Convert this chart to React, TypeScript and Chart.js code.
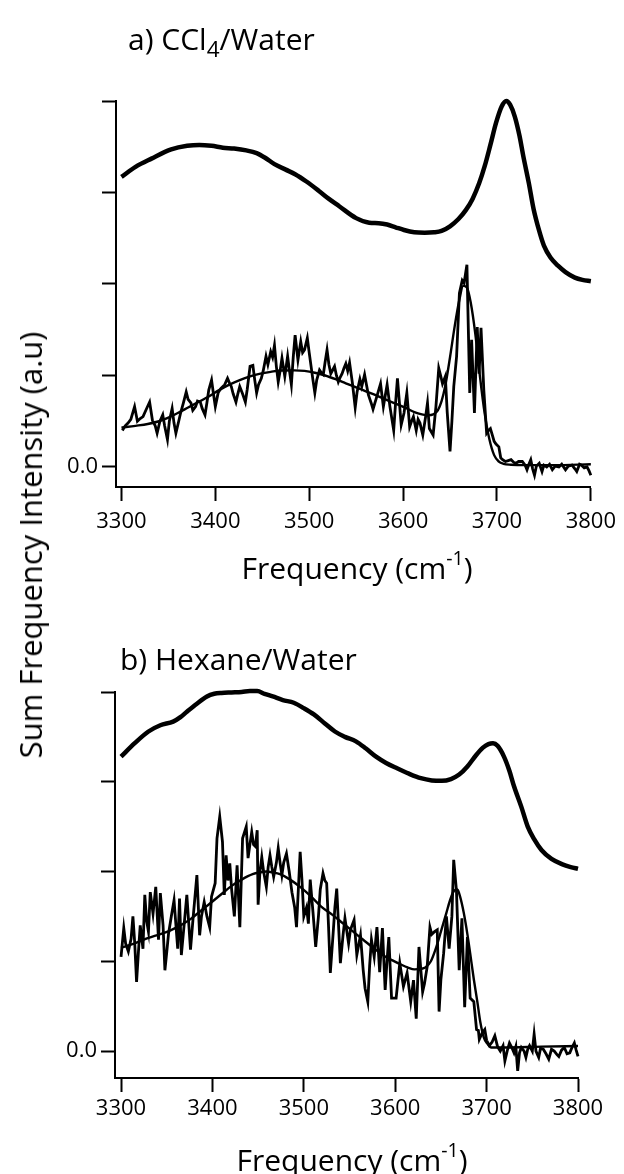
import React, { useEffect, useRef } from "react";
import { Chart, registerables } from "chart.js";

Chart.register(...registerables);

// ---------- Panel a) CCl4/Water ----------
const aTopX = [3300, 3315, 3332, 3353, 3370, 3383, 3396, 3408, 3420, 3433, 3444, 3453, 3463, 3475, 3485, 3497, 3510, 3521, 3532, 3550, 3564, 3574, 3583, 3592, 3601, 3612, 3623, 3633, 3641, 3650, 3659, 3667, 3674, 3681, 3687, 3693, 3699, 3705, 3710, 3714, 3719, 3724, 3728, 3734, 3739, 3745, 3750, 3757, 3765, 3773, 3783, 3791, 3800];
const aTopY = [3.17, 3.28, 3.37, 3.47, 3.51, 3.52, 3.51, 3.49, 3.48, 3.46, 3.43, 3.38, 3.31, 3.25, 3.2, 3.12, 3.02, 2.93, 2.85, 2.72, 2.67, 2.665, 2.65, 2.62, 2.59, 2.565, 2.56, 2.565, 2.58, 2.63, 2.71, 2.81, 2.93, 3.1, 3.29, 3.52, 3.76, 3.94, 4.0, 3.96, 3.83, 3.62, 3.4, 3.1, 2.82, 2.58, 2.42, 2.29, 2.2, 2.13, 2.07, 2.045, 2.03];

const aFitX = [3300, 3315, 3328, 3340, 3350, 3360, 3371, 3382, 3393, 3404, 3415, 3426, 3437, 3448, 3459, 3470, 3484, 3495, 3506, 3517, 3528, 3539, 3550, 3561, 3572, 3583, 3594, 3604, 3612, 3620, 3627, 3632, 3637, 3641, 3645, 3650, 3655, 3660, 3664, 3668, 3672, 3677, 3682, 3687, 3692, 3697, 3702, 3707, 3715, 3730, 3760, 3800];
const aFitY = [0.43, 0.45, 0.47, 0.5, 0.54, 0.59, 0.65, 0.71, 0.77, 0.84, 0.9, 0.95, 0.99, 1.02, 1.04, 1.055, 1.056, 1.05, 1.03, 1.0, 0.96, 0.915, 0.87, 0.825, 0.78, 0.73, 0.685, 0.64, 0.6, 0.575, 0.565, 0.575, 0.62, 0.72, 0.89, 1.2, 1.54, 1.83, 1.98, 1.96, 1.8, 1.45, 0.98, 0.58, 0.3, 0.13, 0.06, 0.035, 0.025, 0.02, 0.02, 0.03];

const aRawX = [3301, 3304, 3307, 3310, 3314, 3317, 3320, 3323, 3326, 3330, 3333, 3336, 3338, 3341, 3344, 3346, 3349, 3351, 3354, 3356, 3358, 3361, 3363, 3366, 3369, 3371, 3374, 3376, 3379, 3381, 3384, 3386, 3389, 3391, 3393, 3396, 3398, 3400, 3403, 3406, 3410, 3413, 3415, 3417, 3419, 3422, 3424, 3426, 3429, 3432, 3434, 3437, 3440, 3442, 3444, 3446, 3449, 3451, 3454, 3456, 3459, 3461, 3463, 3465, 3467, 3469, 3471, 3474, 3477, 3479, 3481, 3483, 3485, 3488, 3491, 3493, 3495, 3498, 3500, 3502, 3504, 3506, 3508, 3511, 3513, 3515, 3517, 3519, 3521, 3523, 3525, 3527, 3529, 3531, 3533, 3535, 3537, 3539, 3541, 3543, 3546, 3549, 3551, 3554, 3556, 3559, 3561, 3563, 3566, 3568, 3570, 3572, 3576, 3579, 3583, 3586, 3590, 3592, 3594, 3598, 3601, 3604, 3607, 3609, 3611, 3614, 3616, 3618, 3621, 3624, 3626, 3628, 3632, 3635, 3638, 3640, 3642, 3645, 3647, 3650, 3652, 3654, 3657, 3660, 3663, 3665, 3668, 3671, 3673, 3676, 3679, 3681, 3683, 3686, 3689, 3691, 3693, 3695, 3697, 3699, 3702, 3704, 3706, 3709, 3712, 3715, 3718, 3720, 3723, 3727, 3730, 3732, 3734, 3736, 3738, 3740, 3742, 3745, 3748, 3750, 3753, 3756, 3759, 3762, 3766, 3769, 3773, 3776, 3780, 3783, 3785, 3788, 3790, 3793, 3796, 3798, 3800];
const aRawY = [0.4, 0.45, 0.48, 0.52, 0.66, 0.5, 0.53, 0.55, 0.62, 0.71, 0.51, 0.45, 0.37, 0.5, 0.57, 0.45, 0.3, 0.5, 0.64, 0.48, 0.37, 0.5, 0.59, 0.7, 0.82, 0.74, 0.7, 0.62, 0.66, 0.72, 0.71, 0.64, 0.57, 0.7, 0.84, 0.95, 0.8, 0.66, 0.81, 0.86, 0.9, 0.97, 0.92, 0.88, 0.8, 0.71, 0.8, 0.88, 0.8, 0.71, 0.85, 1.1, 1.11, 0.95, 0.81, 0.9, 0.97, 1.05, 1.21, 1.12, 1.26, 1.2, 1.33, 1.1, 0.93, 1.05, 1.19, 0.99, 1.21, 1.05, 0.9, 1.2, 1.44, 1.17, 1.37, 1.25, 1.28, 1.41, 1.25, 1.1, 0.95, 0.81, 0.95, 1.06, 1.03, 1.01, 1.15, 1.28, 1.12, 1.02, 1.06, 1.1, 1.0, 0.93, 0.98, 1.02, 1.08, 1.13, 1.05, 1.14, 0.92, 0.65, 0.82, 0.96, 0.88, 1.01, 0.9, 0.79, 0.7, 0.63, 0.7, 0.77, 0.91, 0.66, 0.9, 0.66, 0.4, 0.7, 0.97, 0.46, 0.59, 0.81, 0.44, 0.5, 0.55, 0.4, 0.52, 0.48, 0.35, 0.55, 0.7, 0.42, 0.35, 0.66, 1.08, 1.0, 0.91, 0.99, 0.6, 0.17, 0.5, 0.88, 1.21, 1.9, 2.04, 2.01, 2.21, 0.81, 1.39, 0.59, 1.53, 1.02, 1.52, 0.84, 0.37, 0.4, 0.42, 0.35, 0.28, 0.25, 0.22, 0.1, 0.08, 0.06, 0.07, 0.08, 0.05, 0.04, 0.06, 0.06, 0.02, -0.03, 0.03, 0.08, -0.02, -0.09, 0.01, 0.04, -0.05, 0.02, 0.0, 0.03, -0.03, 0.01, 0.0, 0.03, -0.03, 0.01, 0.02, -0.02, -0.05, 0.03, 0.02, -0.01, 0.0, -0.04, -0.09];

// ---------- Panel b) Hexane/Water ----------
const bTopX = [3300, 3315, 3330, 3343, 3357, 3365, 3372, 3383, 3394, 3402, 3410, 3421, 3432, 3441, 3449, 3457, 3466, 3477, 3489, 3500, 3511, 3523, 3534, 3545, 3557, 3568, 3579, 3590, 3602, 3615, 3628, 3640, 3651, 3661, 3670, 3679, 3688, 3696, 3702, 3707, 3712, 3719, 3725, 3730, 3738, 3745, 3752, 3760, 3771, 3783, 3792, 3800];
const bTopY = [3.28, 3.43, 3.56, 3.63, 3.67, 3.72, 3.78, 3.87, 3.95, 3.98, 3.99, 3.995, 4.0, 4.01, 4.01, 3.98, 3.95, 3.91, 3.88, 3.82, 3.75, 3.65, 3.56, 3.5, 3.45, 3.37, 3.28, 3.21, 3.15, 3.09, 3.04, 3.015, 3.01, 3.03, 3.08, 3.17, 3.29, 3.38, 3.42, 3.43, 3.4, 3.28, 3.12, 2.95, 2.72, 2.5, 2.36, 2.24, 2.14, 2.08, 2.05, 2.03];

const bFitX = [3300, 3315, 3330, 3342, 3353, 3365, 3376, 3387, 3398, 3410, 3421, 3432, 3444, 3452, 3459, 3466, 3474, 3485, 3497, 3508, 3519, 3531, 3542, 3554, 3565, 3576, 3588, 3597, 3606, 3614, 3621, 3628, 3633, 3639, 3644, 3650, 3656, 3660, 3664, 3668, 3671, 3675, 3679, 3682, 3686, 3690, 3693, 3697, 3701, 3705, 3720, 3760, 3800];
const bFitY = [1.15, 1.2, 1.26, 1.3, 1.34, 1.4, 1.47, 1.56, 1.65, 1.75, 1.84, 1.91, 1.97, 1.99, 2.0, 1.99, 1.97, 1.91, 1.82, 1.72, 1.61, 1.52, 1.43, 1.33, 1.24, 1.15, 1.06, 1.01, 0.965, 0.93, 0.91, 0.915, 0.93, 1.0, 1.13, 1.33, 1.54, 1.68, 1.78, 1.8, 1.72, 1.54, 1.3, 1.09, 0.8, 0.54, 0.33, 0.15, 0.08, 0.04, 0.04, 0.05, 0.056];

const bRawX = [3300, 3303, 3305, 3308, 3311, 3313, 3315, 3317, 3319, 3321, 3324, 3326, 3328, 3330, 3332, 3335, 3338, 3341, 3343, 3346, 3348, 3350, 3352, 3355, 3358, 3362, 3364, 3366, 3369, 3372, 3376, 3379, 3383, 3386, 3388, 3391, 3394, 3397, 3399, 3403, 3405, 3408, 3411, 3413, 3415, 3417, 3419, 3421, 3424, 3427, 3430, 3433, 3437, 3439, 3441, 3443, 3445, 3447, 3449, 3450, 3452, 3454, 3456, 3459, 3461, 3463, 3465, 3467, 3470, 3472, 3474, 3476, 3478, 3481, 3484, 3487, 3490, 3492, 3494, 3496, 3498, 3500, 3503, 3505, 3507, 3510, 3513, 3516, 3518, 3521, 3523, 3525, 3527, 3529, 3532, 3534, 3536, 3538, 3540, 3543, 3545, 3549, 3551, 3555, 3558, 3562, 3565, 3567, 3570, 3572, 3574, 3577, 3580, 3583, 3586, 3589, 3591, 3593, 3596, 3598, 3601, 3605, 3609, 3613, 3617, 3620, 3623, 3626, 3630, 3632, 3635, 3638, 3640, 3643, 3646, 3648, 3650, 3653, 3656, 3659, 3662, 3664, 3667, 3670, 3673, 3676, 3679, 3682, 3686, 3689, 3691, 3692, 3695, 3698, 3700, 3703, 3706, 3709, 3712, 3715, 3718, 3720, 3723, 3725, 3728, 3730, 3732, 3734, 3736, 3738, 3741, 3743, 3745, 3747, 3750, 3752, 3754, 3757, 3759, 3762, 3765, 3768, 3771, 3774, 3777, 3779, 3782, 3785, 3788, 3791, 3793, 3796, 3798, 3800];
const bRawY = [1.05, 1.37, 1.2, 1.11, 1.25, 1.5, 1.2, 0.77, 1.1, 1.4, 1.14, 1.74, 1.45, 1.33, 1.77, 1.53, 1.83, 1.24, 1.76, 1.4, 0.9, 1.1, 1.31, 1.5, 1.68, 1.14, 1.7, 1.07, 1.4, 1.74, 1.13, 1.5, 1.96, 1.29, 1.5, 1.66, 1.5, 1.38, 1.72, 1.87, 2.37, 2.61, 2.33, 1.74, 2.18, 1.9, 2.09, 1.8, 1.5, 2.07, 1.38, 2.37, 2.5, 2.15, 2.3, 2.44, 2.3, 2.28, 2.46, 1.63, 2.0, 2.16, 2.0, 1.83, 2.05, 2.18, 2.05, 1.94, 2.1, 2.26, 2.1, 1.96, 2.1, 2.2, 2.0, 1.77, 1.6, 1.38, 1.8, 2.22, 1.9, 1.5, 1.6, 1.42, 1.91, 1.55, 1.16, 1.5, 1.8, 1.98, 1.9, 1.87, 1.4, 0.87, 1.3, 1.6, 1.81, 1.4, 0.98, 1.3, 1.48, 1.2, 1.35, 1.46, 1.07, 1.29, 0.9, 0.7, 0.55, 0.95, 1.24, 1.05, 1.38, 0.88, 1.37, 0.68, 1.0, 1.27, 0.59, 0.59, 0.59, 0.98, 0.72, 0.87, 0.55, 0.79, 0.36, 1.16, 0.66, 0.75, 0.94, 1.38, 1.3, 1.33, 1.35, 0.44, 0.8, 1.09, 1.5, 1.14, 1.5, 2.13, 1.79, 0.9, 1.48, 0.49, 1.27, 0.59, 0.55, 0.24, 0.23, 0.13, 0.2, 0.24, 0.12, 0.06, 0.1, 0.17, 0.05, 0.0, 0.06, -0.11, 0.02, 0.09, 0.03, -0.02, 0.05, -0.22, -0.02, 0.04, 0.0, -0.07, 0.02, 0.06, 0.0, 0.19, 0.0, -0.07, 0.03, 0.02, -0.03, -0.09, 0.02, 0.0, -0.04, -0.06, 0.01, 0.04, -0.03, -0.02, 0.03, 0.09, 0.01, -0.06];

const xTickValues = [3300, 3400, 3500, 3600, 3700, 3800];
const yTickValues = [0, 1, 2, 3, 4];

const FONT = "'Open Sans', 'DejaVu Sans', sans-serif";

type PanelProps = {
  topX: number[]; topY: number[];
  fitX: number[]; fitY: number[];
  rawX: number[]; rawY: number[];
  xMin: number; yMin: number;
  width: number; height: number;
  padTop: number; padRight: number;
  yWidth: number; xHeight: number;
  xLabelPad: number;
};

const pts = (xs: number[], ys: number[]) => xs.map((x, i) => ({ x, y: ys[i] }));

function Panel(p: PanelProps) {
  const ref = useRef<HTMLCanvasElement | null>(null);
  useEffect(() => {
    if (!ref.current) return;
    const axisCommon = {
      grid: {
        display: true,
        drawOnChartArea: false,
        drawTicks: true,
        tickLength: 14,
        tickWidth: 2,
        tickColor: "#000",
        color: "#000",
      },
      border: { display: true, width: 2, color: "#000" },
    };
    const chart = new Chart(ref.current, {
      type: "line",
      data: {
        datasets: [
          {
            data: pts(p.topX, p.topY),
            borderColor: "#000",
            borderWidth: 4.5,
            pointRadius: 0,
            cubicInterpolationMode: "monotone",
            clip: false,
          },
          {
            data: pts(p.rawX, p.rawY),
            borderColor: "#000",
            borderWidth: 2.8,
            pointRadius: 0,
            tension: 0,
            clip: false,
          },
          {
            data: pts(p.fitX, p.fitY),
            borderColor: "#000",
            borderWidth: 2.4,
            pointRadius: 0,
            cubicInterpolationMode: "monotone",
            clip: false,
          },
        ],
      },
      options: {
        animation: false,
        responsive: false,
        events: [],
        layout: { padding: { top: p.padTop, right: p.padRight, left: 0, bottom: 0 } },
        plugins: { legend: { display: false }, tooltip: { enabled: false }, title: { display: false } },
        scales: {
          x: {
            type: "linear",
            position: "bottom",
            min: p.xMin,
            max: 3800,
            afterBuildTicks: (s: any) => {
              s.ticks = xTickValues.map((v) => ({ value: v }));
            },
            afterFit: (s: any) => {
              s.height = p.xHeight;
            },
            ticks: {
              color: "#000",
              font: { family: FONT, size: 22 },
              padding: p.xLabelPad,
              maxRotation: 0,
              autoSkip: false,
              callback: (v: any) => String(v),
            },
            ...axisCommon,
          },
          y: {
            type: "linear",
            position: "left",
            min: p.yMin,
            max: 4,
            afterBuildTicks: (s: any) => {
              s.ticks = yTickValues.map((v) => ({ value: v }));
            },
            afterFit: (s: any) => {
              s.width = p.yWidth;
            },
            ticks: {
              color: "#000",
              font: { family: FONT, size: 22 },
              padding: 4,
              autoSkip: false,
              callback: (v: any) => (v === 0 ? "0.0" : ""),
            },
            ...axisCommon,
          },
        },
      },
    } as any);
    return () => chart.destroy();
  }, []);
  return <canvas ref={ref} width={p.width} height={p.height} style={{ display: "block", width: p.width, height: p.height }} />;
}

const titleStyle: React.CSSProperties = {
  position: "absolute",
  fontFamily: FONT,
  fontSize: 30,
  lineHeight: "36px",
  color: "#000",
  whiteSpace: "nowrap",
};

const axisTitleStyle: React.CSSProperties = {
  position: "absolute",
  fontFamily: FONT,
  fontSize: 30,
  lineHeight: "36px",
  color: "#000",
  whiteSpace: "nowrap",
  transform: "translateX(-50%)",
};

export default function App() {
  return (
    <div style={{ position: "absolute", left: 0, top: 0, width: 624, height: 1174, background: "#fff", overflow: "hidden" }}>
      <div style={{ position: "absolute", left: 0, top: 0 }}>
        <Panel
          topX={aTopX} topY={aTopY} fitX={aFitX} fitY={aFitY} rawX={aRawX} rawY={aRawY}
          xMin={3294.2} yMin={-0.2186}
          width={624} height={560}
          padTop={101} padRight={28}
          yWidth={116} xHeight={73}
          xLabelPad={8}
        />
      </div>
      <div style={{ position: "absolute", left: 0, top: 600 }}>
        <Panel
          topX={bTopX} topY={bTopY} fitX={bFitX} fitY={bFitY} rawX={bRawX} rawY={bRawY}
          xMin={3293.4} yMin={-0.3}
          width={624} height={574}
          padTop={92} padRight={46}
          yWidth={115} xHeight={96}
          xLabelPad={4}
        />
      </div>

      <div style={{ ...titleStyle, left: 128, top: 21 }}>
        a) CCl<sub style={{ fontSize: "0.75em", verticalAlign: "-0.3em" }}>4</sub>/Water
      </div>
      <div style={{ ...titleStyle, left: 120, top: 641 }}>b) Hexane/Water</div>

      <div style={{ ...axisTitleStyle, left: 357, top: 540 }}>
        Frequency (cm<sup style={{ fontSize: "0.65em", verticalAlign: "0.7em" }}>-1</sup>)
      </div>
      <div style={{ ...axisTitleStyle, left: 352, top: 1132 }}>
        Frequency (cm<sup style={{ fontSize: "0.65em", verticalAlign: "0.7em" }}>-1</sup>)
      </div>

      <div
        style={{
          position: "absolute",
          left: 30,
          top: 545,
          fontFamily: FONT,
          fontSize: 31,
          lineHeight: "34px",
          color: "#000",
          whiteSpace: "nowrap",
          transform: "translate(-50%, -50%) rotate(-90deg)",
        }}
      >
        Sum Frequency Intensity (a.u)
      </div>
    </div>
  );
}
